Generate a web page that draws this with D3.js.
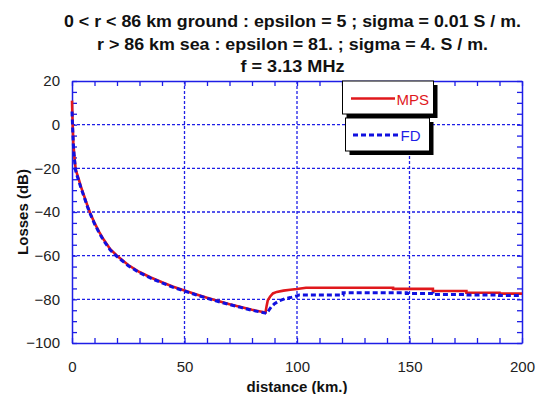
<!DOCTYPE html>
<html><head><meta charset="utf-8">
<script src="https://cdn.jsdelivr.net/npm/d3@7/dist/d3.min.js"></script>
<style>body{margin:0;background:#fff}svg{display:block}text{font-family:"Liberation Sans",Arial,sans-serif}</style>
</head><body><svg id="c" width="544" height="394"></svg>
<script>
const titleLines = [
  "0 < r < 86 km ground : epsilon = 5 ; sigma = 0.01 S / m.",
  "r > 86 km sea : epsilon = 81. ; sigma = 4. S / m.",
  "f = 3.13 MHz"
];
const xLabel = "distance  (km.)";
const yLabel = "Losses  (dB)";
const xTicks = [0, 50, 100, 150, 200];
const yTicks = [20, 0, -20, -40, -60, -80, -100];
const seriesNames = ["MPS", "FD"];
const mpsKm = [0,0.15,0.3,0.6,1,1.6,2,3,4,5,6,7,8,10,12,14,17,20,25,30,35,40,45,50,55,60,65,70,75,80,86,86.5,87,88,89.3,91,94,97,100,104,142.7,142.7,160.4,160.4,175.3,175.3,190,190,200];
const mpsDb = [11,5,0,-8,-14,-20,-21.8,-25,-28.5,-31.5,-34.5,-37.5,-40.2,-45,-49,-52.5,-57,-60,-64.3,-67.5,-70,-72.2,-74.2,-76,-77.7,-79.3,-80.8,-82.2,-83.5,-84.8,-86,-83,-80.5,-78.8,-77.3,-76.6,-76,-75.6,-75.3,-74.7,-74.7,-75.2,-75.2,-76.2,-76.2,-77,-77,-77.4,-77.4];
const fdKm = [0,0.15,0.3,0.6,1,1.6,2,3,4,5,6,7,8,10,12,14,17,20,25,30,35,40,45,50,55,60,65,70,75,80,86,86.5,87.5,88.6,90,92.3,95,97,99.7,101,120.5,120.5,148.6,148.6,160.4,160.4,175,175,190,190,200];
const fdDb = [6,2,-2,-9,-15,-21,-22.5,-25.8,-29,-32,-35,-38,-40.6,-45.4,-49.4,-53,-57.4,-60.4,-64.6,-67.8,-70.3,-72.5,-74.5,-76.2,-77.9,-79.5,-81,-82.4,-83.7,-85,-86.3,-86.5,-85,-83.4,-82,-80.6,-79.6,-79.2,-78.5,-78,-78,-77,-77,-77.3,-77.3,-77.8,-77.8,-78,-78,-78.3,-78.3];

const svg = d3.select("#c");
const L = 72, R = 522, T = 81, B = 343;
const x = d3.scaleLinear().domain([0, 200]).range([L, R]);
const y = d3.scaleLinear().domain([-100, 20]).range([B, T]);
const BLUE = "#1e1ee6", RED = "#e0181c";

// title
const tW = [457, 391, 104];
titleLines.forEach((t, i) => {
  svg.append("text").attr("x", 292.5).attr("y", [27, 50, 72][i])
    .attr("text-anchor", "middle").attr("font-size", 17).attr("font-weight", "bold")
    .attr("fill", "#111").attr("textLength", tW[i]).attr("lengthAdjust", "spacingAndGlyphs").text(t);
});

// grid
const g = svg.append("g");
g.selectAll(".gx").data(xTicks.filter(d => d > 0 && d < 200)).enter().append("line")
  .attr("x1", d => x(d)).attr("x2", d => x(d)).attr("y1", T).attr("y2", B)
  .attr("stroke", BLUE).attr("stroke-width", 1.3).attr("stroke-dasharray", "3,2");
g.selectAll(".gy").data(yTicks.filter(d => d < 20 && d > -100)).enter().append("line")
  .attr("y1", d => y(d)).attr("y2", d => y(d)).attr("x1", L).attr("x2", R)
  .attr("stroke", BLUE).attr("stroke-width", 1.3).attr("stroke-dasharray", "3,2");

// minor ticks (inward)
const minorX = d3.range(0, 201, 10), minorY = d3.range(-100, 21, 5);
function styleAxis(sel) { sel.selectAll("path").attr("stroke", BLUE).attr("stroke-width", 1.5); sel.selectAll("line").attr("stroke", BLUE).attr("stroke-width", 1.3); }
svg.append("g").attr("transform", `translate(0,${B})`).call(d3.axisBottom(x).tickValues(minorX).tickSize(-5).tickSizeOuter(0).tickFormat("")).call(styleAxis);
svg.append("g").attr("transform", `translate(0,${T})`).call(d3.axisTop(x).tickValues(minorX).tickSize(-5).tickSizeOuter(0).tickFormat("")).call(styleAxis);
svg.append("g").attr("transform", `translate(${L},0)`).call(d3.axisLeft(y).tickValues(minorY).tickSize(-5).tickSizeOuter(0).tickFormat("")).call(styleAxis);
svg.append("g").attr("transform", `translate(${R},0)`).call(d3.axisRight(y).tickValues(minorY).tickSize(-5).tickSizeOuter(0).tickFormat("")).call(styleAxis);

// tick labels
const xl = svg.append("g").attr("transform", `translate(0,${B})`).call(d3.axisBottom(x).tickValues(xTicks).tickSize(0).tickPadding(18).tickFormat(d3.format("d")));
xl.select("path").remove();
xl.selectAll("text").attr("font-size", 15).attr("fill", "#222").attr("font-family", "Liberation Sans, Arial, sans-serif");
const yl = svg.append("g").attr("transform", `translate(${L},0)`).call(d3.axisLeft(y).tickValues(yTicks).tickSize(0).tickPadding(12).tickFormat(d3.format("d")));
yl.select("path").remove();
yl.selectAll("text").attr("font-size", 15).attr("fill", "#222").attr("font-family", "Liberation Sans, Arial, sans-serif");

// axis titles
svg.append("text").attr("x", 297).attr("y", 392).attr("text-anchor", "middle").attr("font-size", 15).attr("font-weight", "bold").attr("fill", "#111").text(xLabel);
svg.append("text").attr("transform", "translate(28,212) rotate(-90)").attr("text-anchor", "middle").attr("font-size", 15).attr("font-weight", "bold").attr("fill", "#111").text(yLabel);

// curves
const line = d3.line().x(d => x(d[0])).y(d => y(d[1]));
svg.append("clipPath").attr("id", "pc").append("rect").attr("x", L - 3).attr("y", T).attr("width", R - L + 3).attr("height", B - T);
svg.append("path").datum(mpsKm.map((k, i) => [k, mpsDb[i]])).attr("d", line)
  .attr("fill", "none").attr("stroke", RED).attr("stroke-width", 2.6).attr("clip-path", "url(#pc)");
svg.append("path").datum(fdKm.map((k, i) => [k, fdDb[i]])).attr("d", line)
  .attr("fill", "none").attr("stroke", "#1010e0").attr("stroke-width", 3).attr("stroke-dasharray", "5,3").attr("clip-path", "url(#pc)");

// legend
function box(x0, y0, w, h) {
  svg.append("rect").attr("x", x0 + 4).attr("y", y0 + 4).attr("width", w).attr("height", h).attr("fill", "#000");
  svg.append("rect").attr("x", x0).attr("y", y0).attr("width", w).attr("height", h).attr("fill", "#fff").attr("stroke", "#000").attr("stroke-width", 1);
}
box(342.5, 81, 91, 33);
svg.append("line").attr("x1", 351).attr("x2", 395).attr("y1", 98.5).attr("y2", 98.5).attr("stroke", RED).attr("stroke-width", 2.6);
svg.append("text").attr("x", 396.5).attr("y", 104.5).attr("font-size", 15).attr("fill", RED).text(seriesNames[0]);
box(345.5, 118, 84, 33);
svg.append("line").attr("x1", 353).attr("x2", 398).attr("y1", 135).attr("y2", 135).attr("stroke", "#1010e0").attr("stroke-width", 3).attr("stroke-dasharray", "5,3");
svg.append("text").attr("x", 400.5).attr("y", 141).attr("font-size", 15).attr("fill", BLUE).text(seriesNames[1]);
</script></body></html>
